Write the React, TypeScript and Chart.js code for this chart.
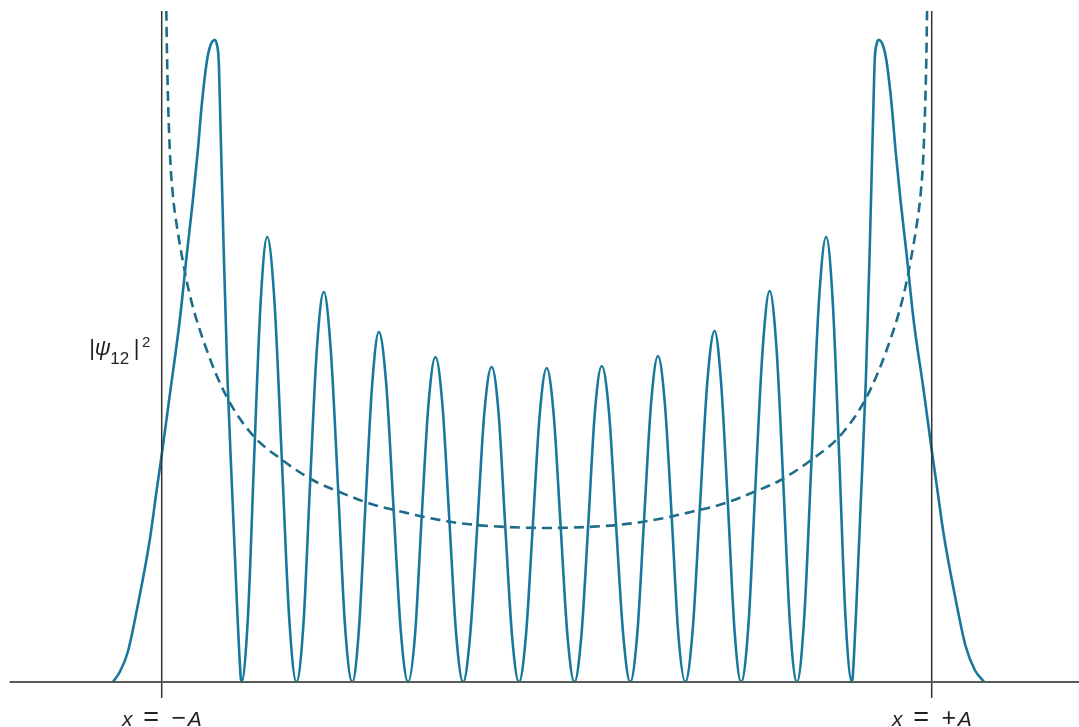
import React, { useEffect, useRef } from "react";
import { Chart, registerables } from "chart.js";

Chart.register(...registerables);

// |psi_12|^2 (x in units of A, height in arbitrary units)
const psiX = [
  -1.127, -1.109, -1.088, -1.062, -1.031, -1.013, -1.0, -0.979, -0.953, -0.935, -0.919, -0.906, -0.896, -0.883, -0.873, -0.862,
  -0.857, -0.852, -0.849, -0.839, -0.829, -0.816, -0.805, -0.798, -0.793,
  -0.776, -0.76, -0.743, -0.726, -0.707, -0.688, -0.669, -0.65,
  -0.632, -0.615, -0.597, -0.579, -0.561, -0.542, -0.524, -0.505,
  -0.488, -0.471, -0.453, -0.436, -0.417, -0.398, -0.379, -0.36,
  -0.342, -0.325, -0.307, -0.289, -0.271, -0.253, -0.235, -0.217,
  -0.199, -0.18, -0.162, -0.143, -0.125, -0.108, -0.09, -0.072,
  -0.054, -0.036, -0.018, 0.0, 0.018, 0.036, 0.054, 0.072,
  0.09, 0.108, 0.125, 0.143, 0.162, 0.18, 0.199, 0.217,
  0.235, 0.253, 0.271, 0.289, 0.307, 0.325, 0.342, 0.36,
  0.379, 0.398, 0.417, 0.436, 0.453, 0.471, 0.488, 0.505,
  0.524, 0.542, 0.561, 0.579, 0.597, 0.615, 0.632, 0.65,
  0.669, 0.688, 0.707, 0.726, 0.743, 0.76, 0.776, 0.793,
  0.798, 0.805, 0.816, 0.829, 0.839, 0.849, 0.852, 0.857, 0.862,
  0.873, 0.883, 0.896, 0.906, 0.919, 0.935, 0.953, 0.979, 1.0, 1.013, 1.031, 1.062, 1.088, 1.112, 1.136,
];
const psiY = [
  0, 0.1, 0.3, 0.77, 1.42, 1.92, 2.27, 2.87, 3.62, 4.27, 4.82, 5.32, 5.77, 6.2, 6.37, 6.42,
  6.38, 6.22, 5.82, 4.32, 3.02, 1.82, 0.82, 0.25, 0,
  0.65, 2.23, 3.8, 4.45, 3.8, 2.23, 0.65, 0,
  0.57, 1.95, 3.33, 3.9, 3.33, 1.95, 0.57, 0,
  0.51, 1.75, 2.99, 3.5, 2.99, 1.75, 0.51, 0,
  0.47, 1.63, 2.78, 3.25, 2.78, 1.63, 0.47, 0,
  0.46, 1.58, 2.69, 3.15, 2.69, 1.58, 0.46, 0,
  0.46, 1.57, 2.68, 3.14, 2.68, 1.57, 0.46, 0,
  0.46, 1.58, 2.69, 3.16, 2.69, 1.58, 0.46, 0,
  0.47, 1.63, 2.78, 3.26, 2.78, 1.63, 0.47, 0,
  0.51, 1.75, 2.99, 3.51, 2.99, 1.75, 0.51, 0,
  0.57, 1.95, 3.33, 3.91, 3.33, 1.95, 0.57, 0,
  0.65, 2.23, 3.8, 4.45, 3.8, 2.23, 0.65, 0,
  0.25, 0.82, 1.82, 3.02, 4.32, 5.82, 6.22, 6.38, 6.42,
  6.37, 6.2, 5.77, 5.32, 4.82, 4.27, 3.62, 2.92, 2.32, 1.97, 1.48, 0.83, 0.36, 0.12, 0,
];

// classical probability density (dashed)
const classicalX = [
  -0.988, -0.986, -0.979, -0.971, -0.961, -0.948, -0.927, -0.883, -0.831, -0.764, -0.694, -0.608, -0.538, -0.456, -0.374,
  -0.33, -0.247, -0.182, -0.104, 0, 0.104, 0.182, 0.247, 0.33, 0.374, 0.456, 0.538, 0.608, 0.694, 0.764, 0.831, 0.883,
  0.927, 0.948, 0.961, 0.971, 0.979, 0.986, 0.988,
];
const classicalY = [
  6.71, 6.22, 5.32, 4.87, 4.57, 4.27, 3.87, 3.32, 2.85, 2.47, 2.24, 2.02, 1.9, 1.78, 1.7,
  1.66, 1.6, 1.57, 1.55, 1.54, 1.55, 1.57, 1.6, 1.66, 1.7, 1.78, 1.9, 2.02, 2.24, 2.47, 2.85, 3.32,
  3.87, 4.27, 4.57, 4.87, 5.32, 6.22, 6.71,
];

// turning points and their labels
const turningX = [-1, 1];
const turningLabels = ["x = −A", "x = +A"];
const yAxisLabel = ["|", "ψ", "12", "|", "2"];

const X_MIN = -1.42;
const X_MAX = 1.3826;
const Y_MIN = -0.45;
const Y_MAX = 6.82;
const AXIS_START = -1.395;
const LINE_TOP = 6.71;
const LINE_BOTTOM = -0.16;

const FONT = "'Liberation Sans', Arial, sans-serif";

const pts = (xs: number[], ys: number[]) => xs.map((x, i) => ({ x, y: ys[i] }));

const textPlugin = {
  id: "textPlugin",
  afterDraw(chart: any) {
    const { ctx, scales } = chart;
    const xs = scales.x;
    const ys = scales.y;
    ctx.save();
    ctx.fillStyle = "#231f20";
    ctx.textAlign = "center";
    ctx.textBaseline = "alphabetic";
    const base = ys.getPixelForValue(0) + 44;
    const offs = [-34.5, -10.5, 17, 33];
    const sizes = [21, 27, 25, 21];
    turningX.forEach((v, i) => {
      const cx = xs.getPixelForValue(v);
      const parts = turningLabels[i].split(" ");
      const glyphs = [parts[0], parts[1], parts[2].slice(0, 1), parts[2].slice(1)];
      glyphs.forEach((g, j) => {
        const italic = j === 0 || j === 3;
        ctx.font = `${italic ? "italic " : ""}${sizes[j]}px ${FONT}`;
        ctx.fillText(g, cx + offs[j], base);
      });
    });
    // y label
    const lx = xs.getPixelForValue(-1);
    const ly = ys.getPixelForValue(0) - 327;
    const specs = [
      { dx: -69.5, dy: 0, font: `22px ${FONT}` },
      { dx: -59, dy: 0, font: `italic 22px ${FONT}` },
      { dx: -42, dy: 9, font: `17px ${FONT}` },
      { dx: -25, dy: 0, font: `22px ${FONT}` },
      { dx: -15.5, dy: -8, font: `15px ${FONT}` },
    ];
    yAxisLabel.forEach((t, i) => {
      ctx.font = specs[i].font;
      ctx.fillText(t, lx + specs[i].dx, ly + specs[i].dy);
    });
    ctx.restore();
  },
};

export default function App() {
  const canvasRef = useRef<HTMLCanvasElement | null>(null);

  useEffect(() => {
    document.body.style.margin = "0";
    const canvas = canvasRef.current;
    if (!canvas) return;
    const chart = new Chart(canvas, {
      type: "line",
      data: {
        datasets: [
          {
            data: [
              { x: AXIS_START, y: 0 },
              { x: X_MAX, y: 0 },
            ],
            borderColor: "#5a5a5a",
            borderWidth: 2,
            pointRadius: 0,
          },
          {
            data: [
              { x: turningX[0], y: LINE_BOTTOM },
              { x: turningX[0], y: LINE_TOP },
            ],
            borderColor: "#333333",
            borderWidth: 1.5,
            pointRadius: 0,
          },
          {
            data: [
              { x: turningX[1], y: LINE_BOTTOM },
              { x: turningX[1], y: LINE_TOP },
            ],
            borderColor: "#333333",
            borderWidth: 1.5,
            pointRadius: 0,
          },
          {
            label: "|ψ12|²",
            data: pts(psiX, psiY),
            borderColor: "#17789c",
            borderWidth: 2.6,
            pointRadius: 0,
            cubicInterpolationMode: "monotone",
          },
          {
            label: "classical",
            data: pts(classicalX, classicalY),
            borderColor: "#1d6c88",
            borderWidth: 2.6,
            borderDash: [10, 6],
            pointRadius: 0,
            cubicInterpolationMode: "monotone",
          },
        ],
      },
      options: {
        responsive: false,
        animation: false,
        layout: { padding: 0 },
        plugins: { legend: { display: false }, tooltip: { enabled: false } },
        scales: {
          x: { type: "linear", min: X_MIN, max: X_MAX, display: false },
          y: { type: "linear", min: Y_MIN, max: Y_MAX, display: false },
        },
        elements: { point: { radius: 0 } },
      },
      plugins: [textPlugin],
    });
    return () => chart.destroy();
  }, []);

  return (
    <div style={{ width: 1079, height: 727, background: "#fff" }}>
      <canvas ref={canvasRef} width={1079} height={727} style={{ display: "block" }} />
    </div>
  );
}
